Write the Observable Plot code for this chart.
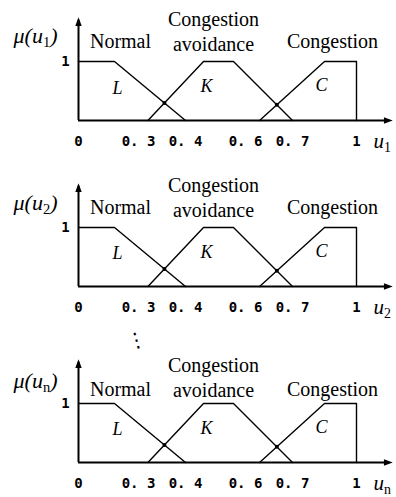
<!DOCTYPE html>
<html>
<head>
<meta charset="utf-8">
<script src="https://cdn.jsdelivr.net/npm/d3@7"></script>
<script src="https://cdn.jsdelivr.net/npm/@observablehq/plot@0.6"></script>
<style>
  html, body { margin: 0; padding: 0; background: #fff; }
  #chart { width: 396px; }
  #chart svg { display: block; }
</style>
</head>
<body>
<div id="chart"></div>
<script>
// ---------- data ----------
const xTicks = [0, 0.3, 0.4, 0.6, 0.7, 1];
const xTickLabels = ["0", "0. 3", "0. 4", "0. 6", "0. 7", "1"];
const yTicks = [1];
const yTickLabels = ["1"];
const setNames = ["Normal", "Congestion avoidance", "Congestion"];
const setSymbols = ["L", "K", "C"];
const variableSubs = ["1", "2", "n"];
// membership functions (breakpoints)
const normalX = [0, 0.18, 0.4];
const normalY = [1, 1, 0];
const avoidX = [0.32, 0.46, 0.56, 0.7];
const avoidY = [0, 1, 1, 0];
const congX = [0.63, 0.85, 1, 1];
const congY = [0, 1, 1, 0];

// ---------- build ----------
const sets = [
  {set: "L", xs: normalX, ys: normalY},
  {set: "K", xs: avoidX, ys: avoidY},
  {set: "C", xs: congX, ys: congY}
];
const members = sets.flatMap(s => s.xs.map((x, i) => ({set: s.set, x, y: s.ys[i]})));

const serif = "Liberation Serif, 'Times New Roman', serif";
const mono = "DejaVu Sans Mono, monospace";

const arrowUp = {draw(ctx, size) {
  const r = Math.sqrt(size / Math.PI);
  ctx.moveTo(0, 0); ctx.lineTo(-0.8 * r, 2.2 * r); ctx.lineTo(0.8 * r, 2.2 * r); ctx.closePath();
}};
const arrowRight = {draw(ctx, size) {
  const r = Math.sqrt(size / Math.PI);
  ctx.moveTo(0, 0); ctx.lineTo(-2.2 * r, -0.8 * r); ctx.lineTo(-2.2 * r, 0.8 * r); ctx.closePath();
}};

// layout (pixels): piecewise-linear horizontal placement of the tick values
const xRange = [78, 138, 185, 245, 292, 356];
const xPos = d3.scaleLinear().domain(xTicks).range(xRange);

// crossing points of neighbouring membership functions (computed in drawn space)
function segs(s) {
  return d3.pairs(s.xs.map((x, i) => [xPos(x), s.ys[i]]));
}
function crossings(a, b) {
  const out = [];
  for (const [[x1, y1], [x2, y2]] of segs(a)) for (const [[x3, y3], [x4, y4]] of segs(b)) {
    const den = (x1 - x2) * (y3 - y4) - (y1 - y2) * (x3 - x4);
    if (!den) continue;
    const t = ((x1 - x3) * (y3 - y4) - (y1 - y3) * (x3 - x4)) / den;
    const u = -((x1 - x2) * (y1 - y3) - (y1 - y2) * (x1 - x3)) / den;
    if (t > 0 && t < 1 && u > 0 && u < 1) out.push({x: xPos.invert(x1 + t * (x2 - x1)), y: y1 + t * (y2 - y1)});
  }
  return out;
}
const crossPts = [...crossings(sets[0], sets[1]), ...crossings(sets[1], sets[2])];

const nameX = [120, 213, 332];
const symX = [117, 206, 321];
const panels = [
  {height: 160, base: 120, muDy: -85, nameDy: [-81, -90, -81], symDy: [-32, -34, -35], tickDy: 21, dots: false},
  {height: 160, base: 126, muDy: -84, nameDy: [-81, -90, -81], symDy: [-33, -34, -35], tickDy: 21, dots: false},
  {height: 177, base: 142, muDy: -82, nameDy: [-75, -86, -75], symDy: [-33, -34, -35], tickDy: 21, dots: true}
];

function label(text, dx, dy, opts = {}) {
  return Plot.text([text], {frameAnchor: "top-left", dx, dy, text: d => d, fill: "black",
    textAnchor: "middle", lineAnchor: "middle", ...opts});
}

function subscriptify(svg) {
  d3.select(svg).selectAll("text").each(function() {
    const t = this.textContent;
    const m = t.match(/^(μ\(u|u)_(\w)(\)?)$/);
    if (!m) return;
    const el = d3.select(this);
    el.text(null);
    el.append("tspan").text(m[1]);
    el.append("tspan").attr("dy", 4).attr("font-size", "0.66em").attr("font-style", "normal").text(m[2]);
    if (m[3]) el.append("tspan").attr("dy", -4).text(m[3]);
  });
}

panels.forEach((p, k) => {
  const sub = variableSubs[k];
  const marks = [
    Plot.ruleY([0], {x1: 0, x2: 1.15, stroke: "black", strokeWidth: 2}),
    Plot.ruleX([0], {y1: 0, y2: 1.7, stroke: "black", strokeWidth: 2}),
    Plot.dot([0], {x: 0, y: 1.75, symbol: arrowUp, r: 4, fill: "black", stroke: null}),
    Plot.dot([0], {x: 1.17, y: 0, symbol: arrowRight, r: 4, fill: "black", stroke: null}),
    Plot.line(members, {x: "x", y: "y", z: "set", stroke: "black", strokeWidth: 1.4}),
    Plot.dot(crossPts, {x: "x", y: "y", r: 2, fill: "black", stroke: null}),
    Plot.text(xTicks, {x: d => d, y: 0, dy: p.tickDy, text: (d, i) => xTickLabels[i],
      fontFamily: mono, fontSize: 14, fontWeight: "bold", fill: "black"}),
    Plot.text(yTicks, {x: 0, y: d => d, dx: -13, text: (d, i) => yTickLabels[i],
      fontFamily: mono, fontSize: 14, fontWeight: "bold", fill: "black"}),
    label(`μ(u_${sub})`, 35, p.base + p.muDy, {fontFamily: serif, fontSize: 22, fontStyle: "italic"}),
    label(`u_${sub}`, 373, p.base + p.tickDy, {fontFamily: serif, fontSize: 21, fontStyle: "italic", textAnchor: "start"}),
    ...setNames.map((n, i) => label(n.replace(" ", "\n"), nameX[i], p.base + p.nameDy[i],
      {fontFamily: serif, fontSize: 20, lineHeight: 1.25})),
    ...setSymbols.map((s, i) => label(s, symX[i], p.base + p.symDy[i],
      {fontFamily: serif, fontSize: 18, fontStyle: "italic"}))
  ];
  if (p.dots) marks.push(label("⋮", 136, 20, {fontFamily: "DejaVu Sans", fontSize: 20, rotate: -15}));
  const svg = Plot.plot({
    width: 396,
    height: p.height,
    marginTop: 0, marginRight: 0, marginBottom: 0, marginLeft: 0,
    x: {type: "linear", transform: xPos, domain: [0, 396], range: [0, 396], axis: null},
    y: {domain: [0, 1], range: [p.base, p.base - 59], axis: null},
    style: {background: "white", overflow: "visible"},
    marks
  });
  subscriptify(svg);
  document.getElementById("chart").appendChild(svg);
});
</script>
</body>
</html>
